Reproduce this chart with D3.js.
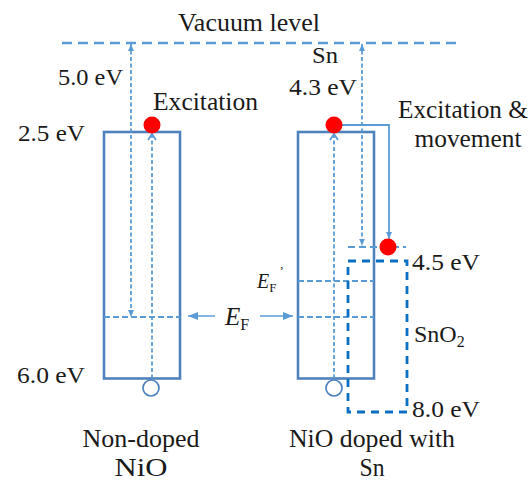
<!DOCTYPE html>
<html>
<head>
<meta charset="utf-8">
<script src="https://cdn.jsdelivr.net/npm/d3@7"></script>
<style>
  body { margin: 0; background: #fff; }
</style>
</head>
<body>
<svg id="chart" width="532" height="481"></svg>
<script>
// Energies in eV below the vacuum level
const materials = ["Non-doped\nNiO", "NiO doped with\nSn"];
const nioBand = [2.5, 6.0];          // NiO conduction / valence band edges
const sno2Band = [4.5, 8.0];         // SnO2 conduction / valence band edges
const workFunctionNiO = 5.0;         // E_F of undoped NiO
const workFunctionSn = 4.3;          // Sn work function
const fermiShifted = 4.7;            // E_F' after Sn doping (not labelled)
const levelTicks = [0, 2.5, 4.3, 4.5, 4.7, 5.0, 6.0, 8.0];

// Schematic (not to scale) energy axis: piecewise linear
const y = d3.scaleLinear()
  .domain(levelTicks)
  .range([43, 132, 247, 261, 281, 317, 378.5, 412]);

// Column positions for the two NiO samples
const x = d3.scalePoint().domain(materials).range([142, 336]);
const boxW = 76;

const FONT = "Times New Roman, Times, Tinos, Liberation Serif, DejaVu Serif, serif";
const C_BOX = "#4f81bd", C_DASH = "#5b9bd5", C_SNO2 = "#0a6fc2", C_RED = "#ff0000";

const svg = d3.select("#chart")
  .attr("font-family", FONT).style("font-family", FONT);
const defs = svg.append("defs");

function triMarker(id, w, h, color) {
  defs.append("marker").attr("id", id)
    .attr("viewBox", `0 0 ${w} ${h}`).attr("refX", w).attr("refY", h / 2)
    .attr("markerWidth", w).attr("markerHeight", h)
    .attr("markerUnits", "userSpaceOnUse").attr("orient", "auto-start-reverse")
    .append("path").attr("d", `M0,0L${w},${h / 2}L0,${h}Z`).attr("fill", color);
}
triMarker("tri", 7, 6, C_DASH);
triMarker("triBig", 10, 8, C_DASH);
// open chevron head
defs.append("marker").attr("id", "chev")
  .attr("viewBox", "0 0 8 10").attr("refX", 8).attr("refY", 5)
  .attr("markerWidth", 8).attr("markerHeight", 10)
  .attr("markerUnits", "userSpaceOnUse").attr("orient", "auto")
  .append("path").attr("d", "M1,1L7,5L1,9").attr("fill", "none")
  .attr("stroke", C_DASH).attr("stroke-width", 1.8);

// Vacuum level
svg.append("line")
  .attr("x1", 62).attr("x2", 457).attr("y1", y(0)).attr("y2", y(0))
  .attr("stroke", C_DASH).attr("stroke-width", 2.3).attr("stroke-dasharray", "10,6");

// NiO band boxes
materials.forEach(m => {
  const x0 = x(m) - boxW / 2;
  svg.append("rect")
    .attr("x", x0).attr("y", y(nioBand[0]))
    .attr("width", boxW).attr("height", y(nioBand[1]) - y(nioBand[0]))
    .attr("fill", "none").attr("stroke", C_BOX).attr("stroke-width", 2.6);
});

const xL = x(materials[0]), xR = x(materials[1]);

// Fermi levels inside the boxes
const fermiLines = [
  [xL, workFunctionNiO], [xR, workFunctionNiO], [xR, fermiShifted]
];
fermiLines.forEach(([cx, e]) => {
  svg.append("line")
    .attr("x1", cx - boxW / 2).attr("x2", cx + boxW / 2)
    .attr("y1", y(e)).attr("y2", y(e))
    .attr("stroke", C_DASH).attr("stroke-width", 2.2).attr("stroke-dasharray", "6,3");
});

// Excitation paths (valence band hole up to conduction band)
[xL + 10, xR - 2].forEach(cx => {
  svg.append("line")
    .attr("x1", cx).attr("x2", cx)
    .attr("y1", y(nioBand[1])).attr("y2", y(nioBand[0]) + 1)
    .attr("stroke", C_DASH).attr("stroke-width", 1.8).attr("stroke-dasharray", "4,2.5")
    .attr("marker-end", "url(#chev)");
});

// Work-function arrows
const wfArrows = [[xL - 11, workFunctionNiO], [xR + 26, workFunctionSn - 0.02]];
wfArrows.forEach(([cx, e]) => {
  svg.append("line")
    .attr("x1", cx).attr("x2", cx)
    .attr("y1", y(0) + 1).attr("y2", y(e))
    .attr("stroke", C_DASH).attr("stroke-width", 1.8).attr("stroke-dasharray", "4,2.5")
    .attr("marker-start", "url(#tri)").attr("marker-end", "url(#tri)");
});

// Sn level line
svg.append("line")
  .attr("x1", 348).attr("x2", 406).attr("y1", y(workFunctionSn)).attr("y2", y(workFunctionSn))
  .attr("stroke", C_DASH).attr("stroke-width", 2).attr("stroke-dasharray", "7,4");

// SnO2 band box
svg.append("rect")
  .attr("x", 348).attr("y", y(sno2Band[0]))
  .attr("width", 59).attr("height", y(sno2Band[1]) - y(sno2Band[0]))
  .attr("fill", "none").attr("stroke", C_SNO2).attr("stroke-width", 2.8)
  .attr("stroke-dasharray", "8,6");

// Excitation & movement path to the Sn level
svg.append("path")
  .attr("d", d3.line()([[xR, y(0) + 82], [389, y(0) + 82], [389, y(workFunctionSn) - 8]]))
  .attr("fill", "none").attr("stroke", C_DASH).attr("stroke-width", 1.8)
  .attr("marker-end", "url(#tri)");

// Fermi-level pointers
svg.append("line").attr("x1", 215).attr("x2", 188)
  .attr("y1", y(workFunctionNiO) - 1).attr("y2", y(workFunctionNiO) - 1)
  .attr("stroke", C_DASH).attr("stroke-width", 1.5).attr("marker-end", "url(#triBig)");
svg.append("line").attr("x1", 260).attr("x2", 293)
  .attr("y1", y(workFunctionNiO) - 1).attr("y2", y(workFunctionNiO) - 1)
  .attr("stroke", C_DASH).attr("stroke-width", 1.5).attr("marker-end", "url(#triBig)");

// Electrons and holes
const electrons = [[xL + 10, 125], [xR - 2, 125], [388, y(workFunctionSn)]];
svg.selectAll("circle.e").data(electrons).join("circle")
  .attr("class", "e").attr("cx", d => d[0]).attr("cy", d => d[1]).attr("r", 8.5)
  .attr("fill", C_RED);
const holes = [[xL + 9, 388], [xR - 2, 388]];
svg.selectAll("circle.h").data(holes).join("circle")
  .attr("class", "h").attr("cx", d => d[0]).attr("cy", d => d[1]).attr("r", 8)
  .attr("fill", "#fff").attr("stroke", C_BOX).attr("stroke-width", 1.7);

// Text labels (fixed widths keep the layout independent of the serif fallback)
function label(tx, ty, s, opts = {}) {
  const t = svg.append("text").attr("x", tx).attr("y", ty)
    .attr("font-family", FONT)
    .attr("font-size", opts.size || 24).attr("fill", "#1a1a1a")
    .attr("text-anchor", opts.anchor || "start").text(s);
  if (opts.w) t.attr("textLength", opts.w).attr("lengthAdjust", "spacingAndGlyphs");
  return t;
}
label(249, 31, "Vacuum level", {anchor: "middle", size: 25, w: 142});
label(58, 85, "5.0 eV", {w: 65});
label(18, 141, "2.5 eV", {w: 67});
label(17, 383, "6.0 eV", {w: 68});
label(153, 110, "Excitation", {size: 25, w: 105});
label(325, 63, "Sn", {anchor: "middle", w: 26});
label(289, 95, "4.3 eV", {w: 68});
label(463, 118, "Excitation &", {anchor: "middle", size: 25, w: 130});
label(468, 147, "movement", {anchor: "middle", size: 25, w: 107});
label(412, 270, "4.5 eV", {w: 68});
label(412, 417, "8.0 eV", {w: 68});

const sno2 = label(414, 342, "");
sno2.append("tspan").text("SnO");
sno2.append("tspan").attr("font-size", 16).attr("dy", 5).text("2");

const ef = label(225, 325, "", {size: 25});
ef.append("tspan").attr("font-style", "italic").text("E");
ef.append("tspan").attr("font-size", 16).attr("dy", 5).text("F");

const efp = label(257, 288, "", {size: 20});
efp.append("tspan").attr("font-style", "italic").text("E");
efp.append("tspan").attr("font-size", 13).attr("dy", 4).text("F");
efp.append("tspan").attr("font-size", 13).attr("dx", 3).attr("dy", -17).text("’");

// Sample names under the columns
const nameWidths = [[117, 53], [166, 25]];
materials.forEach((m, i) => {
  const lines = m.split("\n");
  const cx = i === 0 ? x(m) - 1 : x(m) + 36;
  lines.forEach((ln, j) => label(cx, 447 + j * 29, ln,
    {anchor: "middle", size: 25, w: nameWidths[i][j]}));
});
</script>
</body>
</html>
